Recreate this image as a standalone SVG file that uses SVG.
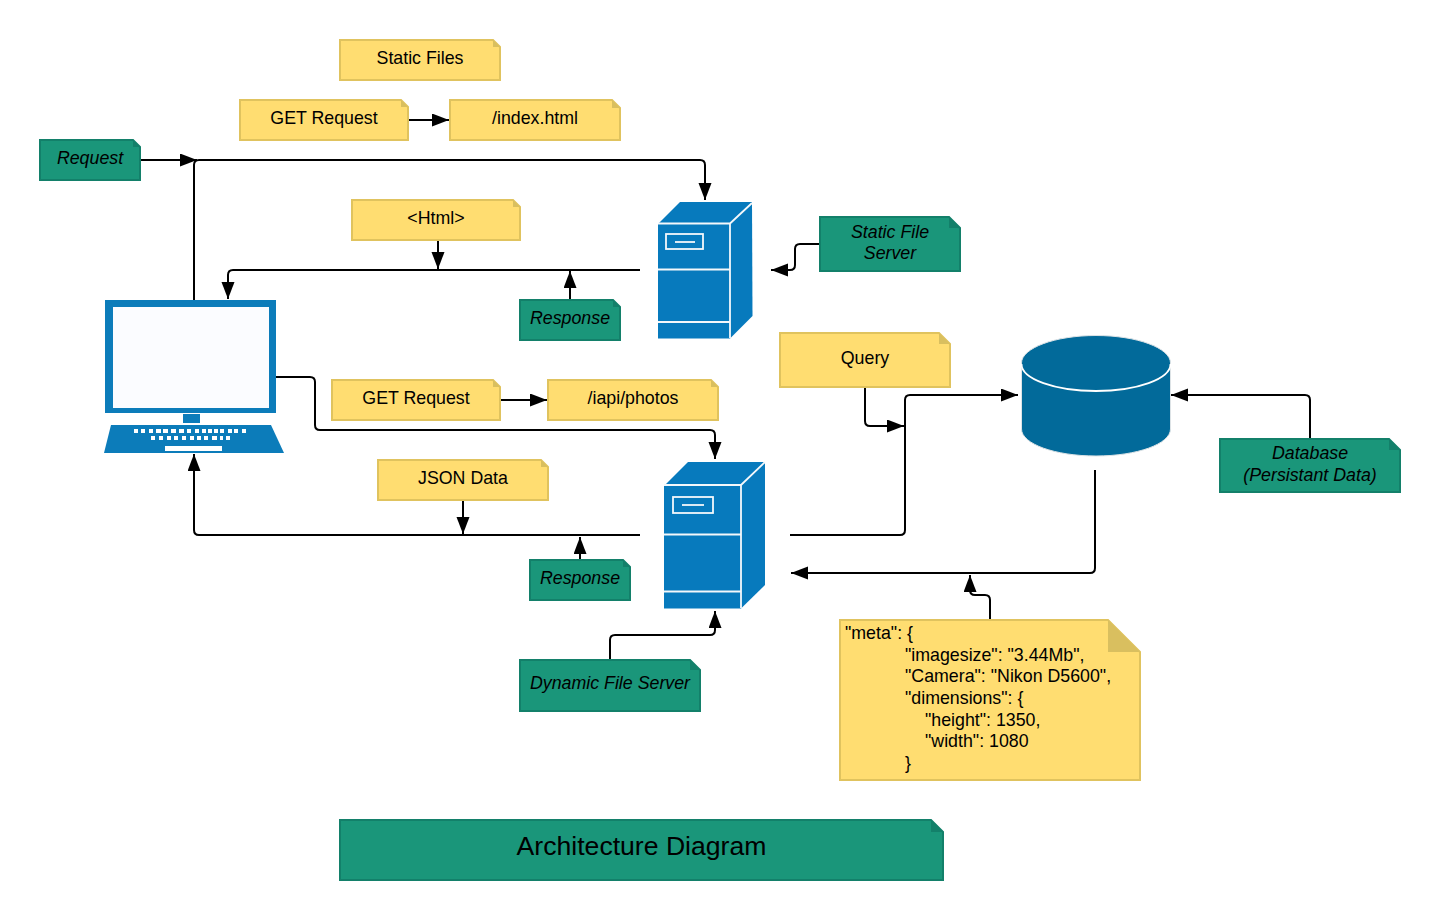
<svg xmlns="http://www.w3.org/2000/svg" width="1440" height="920" viewBox="0 0 1440 920">
<style>
text{font-family:"Liberation Sans",Arial,sans-serif;font-size:17.8px;fill:#000;text-anchor:middle}
.i{font-style:italic}
.y{fill:#FFDD71;stroke:#E0C35E;stroke-width:2}
.yf{fill:#D9BF5F}
.g{fill:#1A967A;stroke:#13806A;stroke-width:2}
.gf{fill:#13806A}
.c{fill:none;stroke:#000;stroke-width:2;marker-end:url(#a)}
.b{fill:#077ABD}
.w{fill:none;stroke:#F4F8FB;stroke-width:1.8}
.k{fill:#fff}
.l{text-anchor:start}
</style>
<defs>
<marker id="a" markerUnits="userSpaceOnUse" markerWidth="18" markerHeight="14" refX="17" refY="6.5" orient="auto"><path d="M0 0L17 6.5L0 13Z" fill="#000"/></marker>
</defs>
<rect width="1440" height="920" fill="#fff"/>
<g id="connectors">
<path class="c" d="M141 160H197"/>
<path class="c" d="M194 300V165Q194 160 199 160H700Q705 160 705 165V200"/>
<path class="c" d="M640 270H233Q228 270 228 275V299"/>
<path class="c" d="M438 240V269"/>
<path class="c" d="M570 300V271"/>
<path class="c" d="M820 244H800Q795 244 795 249V265Q795 270 790 270H771"/>
<path class="c" d="M408 120H449"/>
<path class="c" d="M276 377H310Q315 377 315 382V425Q315 430 320 430H710Q715 430 715 435V459"/>
<path class="c" d="M500 400H547"/>
<path class="c" d="M640 535H199Q194 535 194 530V454"/>
<path class="c" d="M463 500V534"/>
<path class="c" d="M580 560V537"/>
<path class="c" d="M610 660V640Q610 635 615 635H710Q715 635 715 630V611"/>
<path class="c" d="M865 387V421Q865 426 870 426H904"/>
<path class="c" d="M790 535H900Q905 535 905 530V400Q905 395 910 395H1018"/>
<path class="c" d="M1310 439V400Q1310 395 1305 395H1171"/>
<path class="c" d="M1095 470V568Q1095 573 1090 573H791"/>
<path class="c" d="M990 620V600Q990 595 985 595H975Q970 595 970 590V575"/>
</g>
<g id="static-files"><path class="y" d="M340 40H493L500 47V80H340Z"/><path class="yf" d="M493 40V47H500Z"/><text x="420" y="64">Static Files</text></g>
<g id="get-request-1"><path class="y" d="M240 100H401L408 107V140H240Z"/><path class="yf" d="M401 100V107H408Z"/><text x="324" y="124">GET Request</text></g>
<g id="index-html"><path class="y" d="M450 100H612L620 108V140H450Z"/><path class="yf" d="M612 100V108H620Z"/><text x="535" y="124">/index.html</text></g>
<g id="request"><path class="g" d="M40 140H133L140 147V180H40Z"/><path class="gf" d="M133 140V147H140Z"/><text class="i" x="90" y="164">Request</text></g>
<g id="html"><path class="y" d="M352 200H513L520 207V240H352Z"/><path class="yf" d="M513 200V207H520Z"/><text x="436" y="224">&lt;Html&gt;</text></g>
<g id="response-1"><path class="g" d="M520 300H613L620 307V340H520Z"/><path class="gf" d="M613 300V307H620Z"/><text class="i" x="570" y="324">Response</text></g>
<g id="static-file-server"><path class="g" d="M820 217H949L960 228V271H820Z"/><path class="gf" d="M949 217V228H960Z"/><text class="i" x="890" y="238">Static File</text><text class="i" x="890" y="259">Server</text></g>
<g id="get-request-2"><path class="y" d="M332 380H493L500 387V420H332Z"/><path class="yf" d="M493 380V387H500Z"/><text x="416" y="404">GET Request</text></g>
<g id="iapi-photos"><path class="y" d="M548 380H711L718 387V420H548Z"/><path class="yf" d="M711 380V387H718Z"/><text x="633" y="404">/iapi/photos</text></g>
<g id="json-data"><path class="y" d="M378 460H541L548 467V500H378Z"/><path class="yf" d="M541 460V467H548Z"/><text x="463" y="484">JSON Data</text></g>
<g id="response-2"><path class="g" d="M530 560H623L630 567V600H530Z"/><path class="gf" d="M623 560V567H630Z"/><text class="i" x="580" y="584">Response</text></g>
<g id="query"><path class="y" d="M780 333H939L950 344V387H780Z"/><path class="yf" d="M939 333V344H950Z"/><text x="865" y="364">Query</text></g>
<g id="database-label"><path class="g" d="M1220 439H1389L1400 450V492H1220Z"/><path class="gf" d="M1389 439V450H1400Z"/><text class="i" x="1310" y="459">Database</text><text class="i" x="1310" y="481">(Persistant Data)</text></g>
<g id="dynamic-file-server"><path class="g" d="M520 660H690L700 670V711H520Z"/><path class="gf" d="M690 660V670H700Z"/><text class="i" x="610" y="689">Dynamic File Server</text></g>
<g id="meta"><path class="y" d="M840 620H1108L1140 652V780H840Z"/><path class="yf" d="M1108 620V652H1140Z"/>
<text class="l" x="845" y="639">"meta": {</text>
<text class="l" x="905" y="661">"imagesize": "3.44Mb",</text>
<text class="l" x="905" y="682">"Camera": "Nikon D5600",</text>
<text class="l" x="905" y="704">"dimensions": {</text>
<text class="l" x="925" y="726">"height": 1350,</text>
<text class="l" x="925" y="747">"width": 1080</text>
<text class="l" x="905" y="769">}</text></g>
<g id="title"><path class="g" d="M340 820H931L943 832V880H340Z"/><path class="gf" d="M931 820V832H943Z"/><text x="641.500" y="855" style="font-size:26.6px">Architecture Diagram</text></g>
<g id="computer">
<rect x="105" y="300" width="171" height="113" fill="#0C7CBA"/>
<rect x="113" y="307" width="156" height="101" fill="#FBFCFF"/>
<rect x="183" y="414" width="17" height="9" fill="#0C7CBA"/>
<path d="M111 425H271L284 453H104Z" fill="#0C7CBA"/>
<path class="k" d="M134 429h4v4h-4zM141 429h4v4h-4zM149 429h4v4h-4zM156 429h5v4h-5zM163 429h5v4h-5zM171 429h5v4h-5zM179 429h5v4h-5zM187 429h4v4h-4zM195 429h4v4h-4zM202 429h4v4h-4zM208 429h4v4h-4zM214 429h4v4h-4zM220 429h4v4h-4zM228 429h4v4h-4zM234 429h4v4h-4zM242 429h4v4h-4zM151 436h4v4h-4zM159 436h4v4h-4zM167 436h4v4h-4zM174 436h4v4h-4zM182 436h4v4h-4zM190 436h4v4h-4zM197 436h4v4h-4zM204 436h4v4h-4zM212 436h5v4h-5zM220 436h3v4h-3zM226 436h4v4h-4zM165 446h57v5h-57z"/>
</g>
<g id="server-1">
<path class="b" d="M658 224L680 202H752L752.500 316L730 338.500H658Z"/>
<path class="w" d="M658 223.500H730L752 203M730 223.500V338M658 269.500H730M658 322H730"/>
<rect class="w" x="666" y="234" width="37" height="15"/>
<path class="w" d="M675 242H695"/>
</g>
<g id="server-2">
<path class="b" d="M664 486L688 462H765V585L741 608.500H664Z"/>
<path class="w" d="M664 485H741L765 462M741 485V608M664 534.500H741M664 591.500H741"/>
<rect class="w" x="673" y="497" width="40" height="16"/>
<path class="w" d="M682 505H704"/>
</g>
<g id="database">
<path d="M1021.500 363C1021.500 348 1055 335.500 1096 335.500S1170.500 348 1170.500 363V429C1170.500 444 1137 456 1096 456S1021.500 444 1021.500 429Z" fill="#026A9A" stroke="#DDE3E6" stroke-width="1"/>
<path d="M1021.500 364C1021.500 379 1055 391 1096 391S1170.500 379 1170.500 364" fill="none" stroke="#fff" stroke-width="1.800"/>
</g>
</svg>
